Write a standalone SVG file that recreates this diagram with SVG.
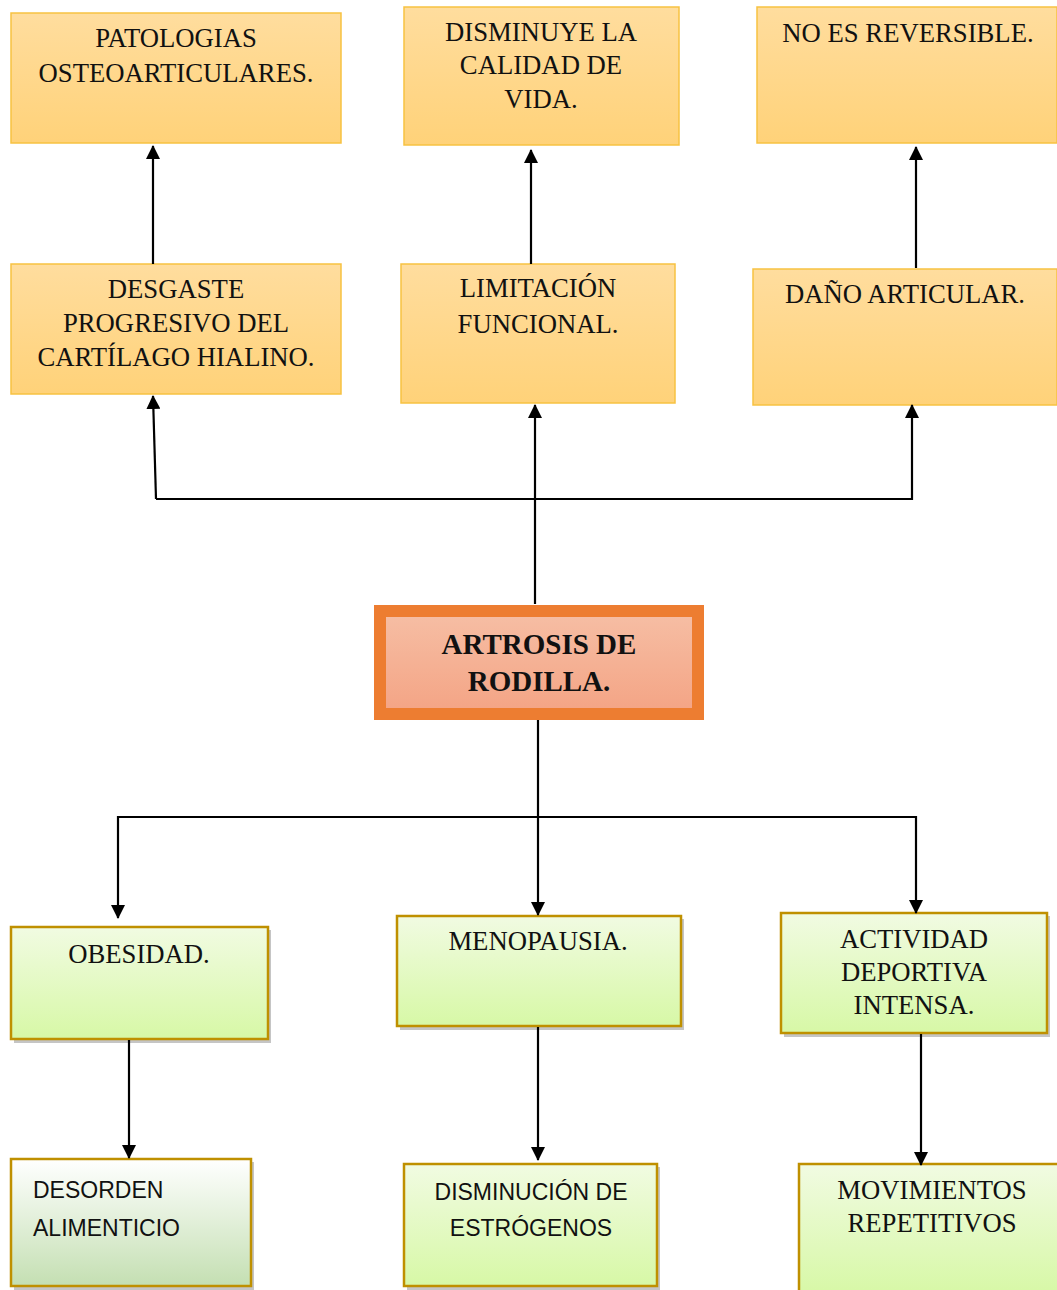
<svg xmlns="http://www.w3.org/2000/svg" width="1057" height="1290" viewBox="0 0 1057 1290">
  <defs>
    <linearGradient id="gOrange" x1="0" y1="0" x2="0" y2="1">
      <stop offset="0" stop-color="#FFDD9E"/>
      <stop offset="1" stop-color="#FFD279"/>
    </linearGradient>
    <linearGradient id="gGreen" x1="0" y1="0" x2="0" y2="1">
      <stop offset="0" stop-color="#F1FBE2"/>
      <stop offset="1" stop-color="#D7F8A6"/>
    </linearGradient>
    <linearGradient id="gMint" x1="0" y1="0" x2="0" y2="1">
      <stop offset="0" stop-color="#FFFFFF"/>
      <stop offset="1" stop-color="#C4DFB2"/>
    </linearGradient>
    <linearGradient id="gSalmon" x1="0" y1="0" x2="0" y2="1">
      <stop offset="0" stop-color="#F6BDA3"/>
      <stop offset="1" stop-color="#F4A586"/>
    </linearGradient>
    <marker id="arrow" viewBox="0 0 14 14" refX="13" refY="7" markerWidth="14" markerHeight="14" markerUnits="userSpaceOnUse" orient="auto">
      <path d="M0,0 L14,7 L0,14 Z" fill="#000"/>
    </marker>
  </defs>
  <style>
    .orange { fill: url(#gOrange); stroke: #F7C242; stroke-width: 1.5; }
    .green { fill: url(#gGreen); stroke: #BF9000; stroke-width: 2.5; }
    .mint { fill: url(#gMint); stroke: #BF9000; stroke-width: 2.5; }
    .shadow { fill: #9E9E9E; opacity: 0.6; }
    .serif { font-family: "Liberation Serif", "Times New Roman", serif; font-size: 26.7px; fill: #111; text-anchor: middle; }
    .sans { font-family: "Liberation Sans", Arial, sans-serif; font-size: 23px; fill: #111; }
    .bold { font-family: "Liberation Serif", "Times New Roman", serif; font-size: 29px; font-weight: bold; fill: #111; text-anchor: middle; }
    .link { fill: none; stroke: #000; stroke-width: 2.2; }
  </style>

  <!-- effects row -->
  <g id="patologias">
    <rect class="orange" x="11" y="13" width="330" height="130"/>
    <text class="serif" x="176" y="47">PATOLOGIAS</text>
    <text class="serif" x="176" y="82">OSTEOARTICULARES.</text>
  </g>
  <g id="calidad-vida">
    <rect class="orange" x="404" y="7" width="275" height="138"/>
    <text class="serif" x="541" y="41">DISMINUYE LA</text>
    <text class="serif" x="541" y="74">CALIDAD DE</text>
    <text class="serif" x="541" y="108">VIDA.</text>
  </g>
  <g id="no-reversible">
    <rect class="orange" x="757" y="7" width="300" height="136"/>
    <text class="serif" x="908" y="42">NO ES REVERSIBLE.</text>
  </g>

  <!-- consequences row -->
  <g id="desgaste">
    <rect class="orange" x="11" y="264" width="330" height="130"/>
    <text class="serif" x="176" y="298">DESGASTE</text>
    <text class="serif" x="176" y="332">PROGRESIVO DEL</text>
    <text class="serif" x="176" y="366">CARTÍLAGO HIALINO.</text>
  </g>
  <g id="limitacion">
    <rect class="orange" x="401" y="264" width="274" height="139"/>
    <text class="serif" x="538" y="297">LIMITACIÓN</text>
    <text class="serif" x="538" y="333">FUNCIONAL.</text>
  </g>
  <g id="dano">
    <rect class="orange" x="753" y="269" width="304" height="136"/>
    <text class="serif" x="905" y="303">DAÑO ARTICULAR.</text>
  </g>

  <!-- central topic -->
  <g id="artrosis">
    <rect x="374" y="605" width="330" height="115" fill="#ED7D31"/>
    <rect x="386" y="617" width="306" height="91" fill="url(#gSalmon)"/>
    <text class="bold" x="539" y="654">ARTROSIS DE</text>
    <text class="bold" x="539" y="691">RODILLA.</text>
  </g>

  <!-- causes row -->
  <g id="obesidad">
    <rect class="shadow" x="14" y="930" width="257" height="113"/>
    <rect class="green" x="11" y="927" width="257" height="112"/>
    <text class="serif" x="139" y="963">OBESIDAD.</text>
  </g>
  <g id="menopausia">
    <rect class="shadow" x="400" y="919" width="284" height="111"/>
    <rect class="green" x="397" y="916" width="284" height="110"/>
    <text class="serif" x="538" y="950">MENOPAUSIA.</text>
  </g>
  <g id="actividad">
    <rect class="shadow" x="784" y="916" width="266" height="121"/>
    <rect class="green" x="781" y="913" width="266" height="120"/>
    <text class="serif" x="914" y="948">ACTIVIDAD</text>
    <text class="serif" x="914" y="981">DEPORTIVA</text>
    <text class="serif" x="914" y="1014">INTENSA.</text>
  </g>

  <!-- origins row -->
  <g id="desorden">
    <rect class="shadow" x="14" y="1162" width="240" height="128"/>
    <rect class="mint" x="11" y="1159" width="240" height="127"/>
    <text class="sans" x="33" y="1198">DESORDEN</text>
    <text class="sans" x="33" y="1236">ALIMENTICIO</text>
  </g>
  <g id="estrogenos">
    <rect class="shadow" x="407" y="1167" width="253" height="123"/>
    <rect class="green" x="404" y="1164" width="253" height="122"/>
    <text class="sans" x="531" y="1200" text-anchor="middle">DISMINUCIÓN DE</text>
    <text class="sans" x="531" y="1236" text-anchor="middle">ESTRÓGENOS</text>
  </g>
  <g id="movimientos">
    <rect class="green" x="799" y="1164" width="262" height="130"/>
    <text class="serif" x="932" y="1199">MOVIMIENTOS</text>
    <text class="serif" x="932" y="1232">REPETITIVOS</text>
  </g>

  <!-- connectors -->
  <g id="connectors">
    <line class="link" x1="153" y1="264" x2="153" y2="146" marker-end="url(#arrow)"/>
    <line class="link" x1="531" y1="264" x2="531" y2="150" marker-end="url(#arrow)"/>
    <line class="link" x1="916" y1="268" x2="916" y2="147" marker-end="url(#arrow)"/>

    <line class="link" x1="156" y1="499" x2="913" y2="499"/>
    <line class="link" x1="156" y1="499" x2="153" y2="396" marker-end="url(#arrow)"/>
    <line class="link" x1="535" y1="604" x2="535" y2="405" marker-end="url(#arrow)"/>
    <line class="link" x1="912" y1="500" x2="912" y2="405" marker-end="url(#arrow)"/>

    <line class="link" x1="538" y1="720" x2="538" y2="915" marker-end="url(#arrow)"/>
    <line class="link" x1="118" y1="817" x2="917" y2="817"/>
    <line class="link" x1="118" y1="816" x2="118" y2="918" marker-end="url(#arrow)"/>
    <line class="link" x1="916" y1="816" x2="916" y2="913" marker-end="url(#arrow)"/>

    <line class="link" x1="129" y1="1040" x2="129" y2="1158" marker-end="url(#arrow)"/>
    <line class="link" x1="538" y1="1027" x2="538" y2="1160" marker-end="url(#arrow)"/>
    <line class="link" x1="921" y1="1034" x2="921" y2="1165" marker-end="url(#arrow)"/>
  </g>
</svg>
